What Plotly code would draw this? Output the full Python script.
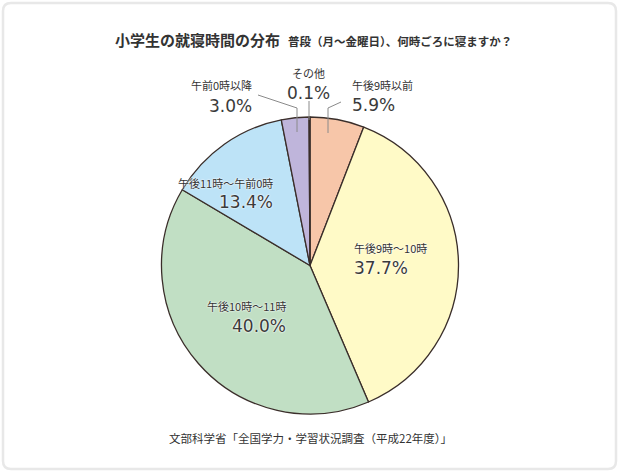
import plotly.graph_objects as go

W, H = 620, 473

# データ(時計回り、12時の位置から)
categories = ["午後9時以前", "午後9時～10時", "午後10時～11時", "午後11時～午前0時", "午前0時以降", "その他"]
values = [5.9, 37.7, 40.0, 13.4, 3.0, 0.1]
pct_labels = ["5.9%", "37.7%", "40.0%", "13.4%", "3.0%", "0.1%"]
colors = ["#f7c6a9", "#fffac7", "#c1dfc4", "#bde3f7", "#bfb5db", "#5a5a5a"]

title_main = "小学生の就寝時間の分布"
title_sub = "普段（月～金曜日）、何時ごろに寝ますか？"
source = "文部科学省「全国学力・学習状況調査（平成22年度）」"


def px(x):
    return x / W


def py(y):
    return 1 - y / H


fig = go.Figure()

fig.add_trace(go.Pie(
    labels=categories, values=values,
    sort=False, direction="clockwise", rotation=0,
    textinfo="none", hoverinfo="label+percent",
    marker=dict(colors=colors, line=dict(color="#3a2e2a", width=1.3)),
    domain=dict(x=[px(161), px(459)], y=[py(414), py(117)]),
    showlegend=False,
))

# ラベル位置 (px): (x, y_name, y_pct, anchor)
label_pos = [
    (350, 85, 105, "left"),
    (352, 248, 268, "left"),
    (288, 306, 326, "right"),
    (275, 183, 202, "right"),
    (254, 85, 106, "right"),
    (308, 73, 93, "center"),
]

halo = "0px 0px 2px white, 0px 0px 2px white"
for name, pct, (x, yn, yp, anc) in zip(categories, pct_labels, label_pos):
    fig.add_annotation(x=px(x), y=py(yn), xref="paper", yref="paper",
                       text=name, showarrow=False, xanchor=anc, yanchor="middle",
                       font=dict(family="Noto Sans CJK JP", size=11, color="#333333", shadow=halo))
    fig.add_annotation(x=px(x), y=py(yp), xref="paper", yref="paper",
                       text=pct, showarrow=False, xanchor=anc, yanchor="middle",
                       font=dict(family="DejaVu Sans", size=17, color="#3a3a3a", shadow=halo))

# 引き出し線
leaders = [
    [(328, 133), (328, 108), (341, 102)],
    [(297, 132), (297, 108), (258, 95)],
    [(309, 101), (309, 120)],
]
for pts in leaders:
    path = "M " + " L ".join(f"{px(a)},{py(b)}" for a, b in pts)
    fig.add_shape(type="path", path=path, xref="paper", yref="paper",
                  line=dict(color="#8a8a8a", width=1))

# 枠(角丸)
x0, y0, x1, y1, r = 3, 3, 616, 469, 8
rx, ry = r / W, r / H
X0, X1, Y0, Y1 = px(x0), px(x1), py(y1), py(y0)
frame = (f"M {X0+rx},{Y1} L {X1-rx},{Y1} Q {X1},{Y1} {X1},{Y1-ry} "
         f"L {X1},{Y0+ry} Q {X1},{Y0} {X1-rx},{Y0} L {X0+rx},{Y0} "
         f"Q {X0},{Y0} {X0},{Y0+ry} L {X0},{Y1-ry} Q {X0},{Y1} {X0+rx},{Y1} Z")
fig.add_shape(type="path", path=frame, xref="paper", yref="paper",
              line=dict(color="#e8e8e8", width=2.5), layer="below")

fig.add_annotation(x=px(113), y=py(40), xref="paper", yref="paper", text=f"<b>{title_main}</b>",
                   showarrow=False, xanchor="left", yanchor="middle",
                   font=dict(family="Noto Sans CJK JP", size=15, color="#333333"))
fig.add_annotation(x=px(286), y=py(41), xref="paper", yref="paper", text=f"<b>{title_sub}</b>",
                   showarrow=False, xanchor="left", yanchor="middle",
                   font=dict(family="Noto Sans CJK JP", size=11.5, color="#333333"))
fig.add_annotation(x=px(310), y=py(438), xref="paper", yref="paper", text=source,
                   showarrow=False, xanchor="center", yanchor="middle",
                   font=dict(family="Noto Sans CJK JP", size=11.5, color="#333333"))

fig.update_layout(
    width=W, height=H,
    margin=dict(l=0, r=0, t=0, b=0),
    paper_bgcolor="white", plot_bgcolor="white",
)

# ページの余白をなくす
fig.write_html("out.html", config={"displayModeBar": False},
               post_script="document.body.style.margin='0';")
